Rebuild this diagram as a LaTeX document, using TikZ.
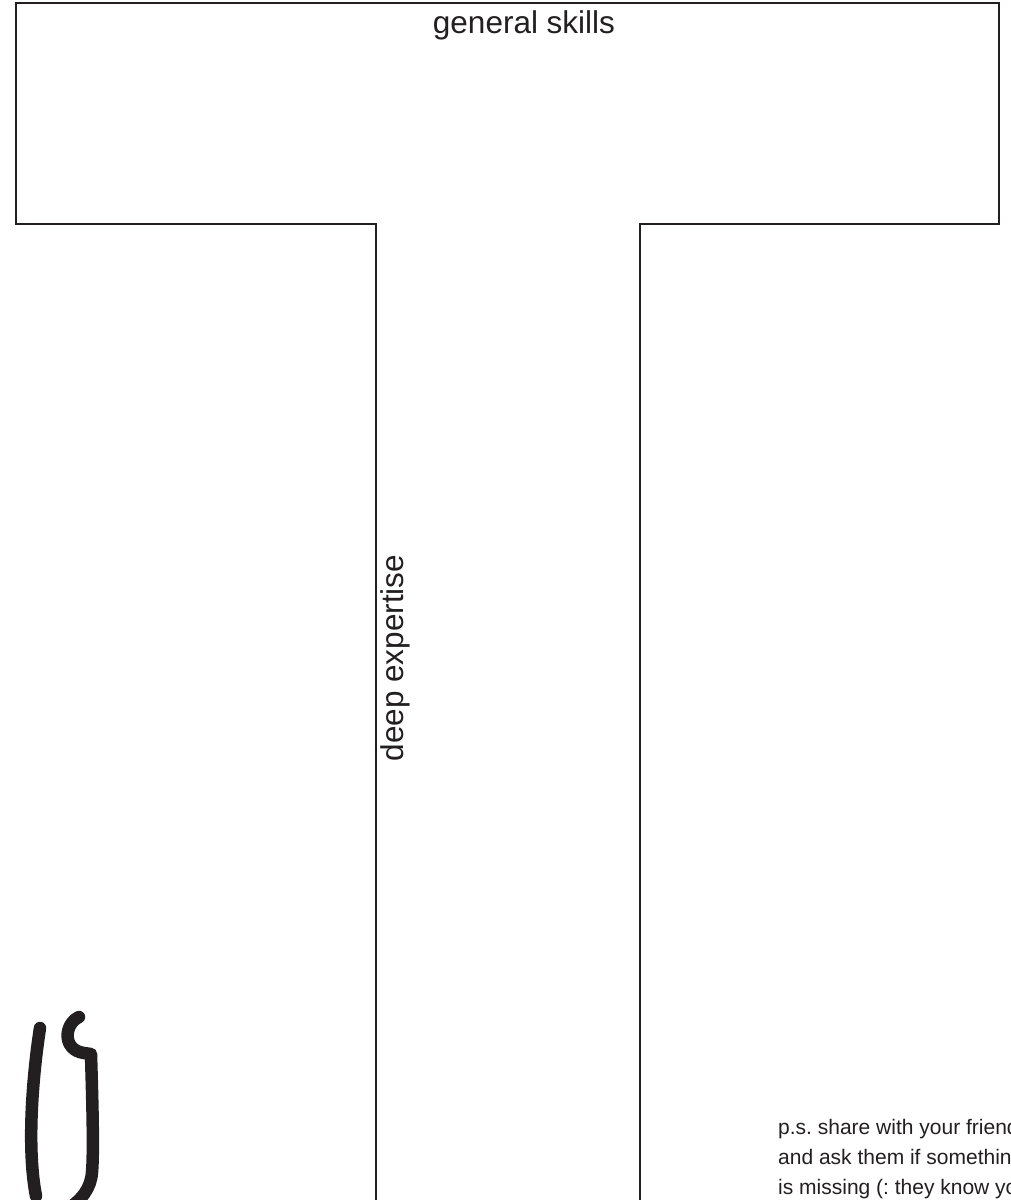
\documentclass[tikz,border=0pt]{standalone}
\usepackage{fontspec}
\setmainfont{Liberation Sans}
\definecolor{ink}{HTML}{231F20}
\begin{document}
\frenchspacing
\begin{tikzpicture}[x=1pt,y=-1pt,
  outline/.style={draw=ink,line width=2pt,line join=miter},
  logostroke/.style={draw=ink,line width=12.5pt,line cap=round,line join=round},
  bigtext/.style={font=\fontsize{31.5}{36}\selectfont,text=ink,inner sep=0pt},
  smalltext/.style={font=\fontsize{21}{30}\selectfont,text=ink,inner sep=0pt,anchor=base west}]
\useasboundingbox (0,0) rectangle (1011,1200);
\clip (0,0) rectangle (1011,1200);
\fill[white] (0,0) rectangle (1011,1200);
% T outline
\draw[outline] (376,1210) -- (376,224) -- (16,224) -- (16,3) -- (999,3) -- (999,224) -- (640,224) -- (640,1210);
% labels
\node[bigtext,anchor=base] (general) at (524,33) {general skills};
\node[bigtext,anchor=base,rotate=90] (deep) at (403,658) {deep expertise};
% note
\node[smalltext] (ps1) at (778,1134) {p.s. share with your friends};
\node[smalltext] (ps2) at (778,1164) {and ask them if something};
\node[smalltext] (ps3) at (778,1194) {is missing (: they know you};
% logo
\draw[logostroke] (40,1028) .. controls (32,1080) and (27,1150) .. (36,1196);
\draw[logostroke] (79,1017) .. controls (64,1024) and (62,1050) .. (84,1053) -- (91,1054) .. controls (92,1090) and (94,1150) .. (92,1172) .. controls (91,1188) and (82,1200) .. (66,1210);
\end{tikzpicture}
\end{document}
